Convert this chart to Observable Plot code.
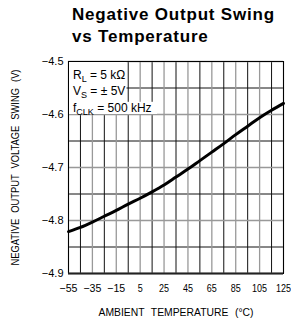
<!DOCTYPE html>
<html>
<head>
<meta charset="utf-8">
<script src="https://cdn.jsdelivr.net/npm/d3@7"></script>
<script src="https://cdn.jsdelivr.net/npm/@observablehq/plot@0.6"></script>
<style>
  html, body { margin: 0; padding: 0; background: #fff; }
  #wrap { position: relative; width: 291px; height: 326px; }
  #title { position: absolute; left: 72px; top: 4px; font-family: "Liberation Sans", Arial, sans-serif; font-weight: bold; font-size: 17px; letter-spacing: 0.8px; line-height: 22px; color: #000; }
  svg { display: block; }
</style>
</head>
<body>
<div id="wrap">
  <div id="title">Negative Output Swing<br>vs Temperature</div>
  <div id="chart"></div>
</div>
<script>
// Data
const temperature = [-55, -45, -35, -25, -15, -5, 5, 15, 25, 35, 45, 55, 65, 75, 85, 95, 105, 115, 125];
const swing = [-4.821, -4.813, -4.803, -4.792, -4.781, -4.769, -4.758, -4.746, -4.733, -4.718, -4.703, -4.687, -4.671, -4.655, -4.638, -4.622, -4.606, -4.592, -4.579];

const xTicks = [-55, -35, -15, 5, 25, 45, 65, 85, 105, 125];
const xMinor = [-45, -25, -5, 15, 35, 55, 75, 95, 115];
const yTicks = [-4.9, -4.8, -4.7, -4.6, -4.5];
const yMinor = [-4.85, -4.75, -4.65, -4.55];

const xLabel = "AMBIENT TEMPERATURE (°C)";
const yLabel = "NEGATIVE OUTPUT VOLTAGE SWING (V)";

// test conditions: [main, subscript, rest]
const conditions = [["R", "L", " = 5 kΩ"], ["V", "S", " = ± 5V"], ["f", "CLK", " = 500 kHz"]];
const condBaseline = [17, 33.5, 50];
const condBoxes = [
  {x1: -55, x2: -6, y1: -4.6, y2: -4.5},
  {x1: -55, x2: 19.5, y1: -4.6, y2: -4.577}
];

const data = temperature.map((t, i) => ({t, v: swing[i]}));
const condStrings = conditions.map(c => c.join(""));
const font = "'Liberation Sans', Arial, sans-serif";
const fmtX = d => d < 0 ? "\u2212" + Math.abs(d) : String(d);
const fmtY = d => "\u2212" + Math.abs(d).toFixed(1);

const chart = Plot.plot({
  width: 291,
  height: 326,
  marginLeft: 68,
  marginRight: 8,
  marginTop: 61,
  marginBottom: 53,
  style: {background: "white", color: "black", fontFamily: font, fontSize: "11px"},
  x: {domain: [-55, 125]},
  y: {domain: [-4.9, -4.5]},
  marks: [
    Plot.ruleX(xMinor, {stroke: "#111", strokeWidth: 1}),
    Plot.ruleY(yMinor, {stroke: "#111", strokeWidth: 1}),
    Plot.ruleX(xTicks, {stroke: "#999", strokeWidth: 1.3}),
    Plot.ruleY(yTicks, {stroke: "#999", strokeWidth: 1.3}),
    Plot.rect(condBoxes, {x1: "x1", x2: "x2", y1: "y1", y2: "y2", fill: "white", inset: 0}),
    Plot.frame({stroke: "black", strokeWidth: 1}),
    Plot.ruleY([-4.9], {stroke: "#222", strokeWidth: 2}),
    Plot.axisX(xTicks, {tickSize: 0, tickPadding: 11, label: null, fontSize: 11, tickFormat: fmtX}),
    Plot.axisY(yTicks, {tickSize: 0, tickPadding: 5, label: null, fontSize: 11, tickFormat: fmtY}),
    Plot.text([xLabel], {frameAnchor: "bottom", dy: 42, fontSize: 11}),
    Plot.text([yLabel], {frameAnchor: "left", rotate: -90, dx: -53, fontSize: 11}),
    ...condStrings.map((s, i) => Plot.text([s], {frameAnchor: "top-left", dx: 4.5, dy: condBaseline[i], fontSize: 12})),
    Plot.line(data, {x: "t", y: "v", stroke: "black", strokeWidth: 3, curve: "monotone-x"})
  ]
});
document.getElementById("chart").appendChild(chart);

const root = d3.select(chart);
const xTickSet = new Set(xTicks.map(fmtX));

root.selectAll("text").each(function() {
  const txt = this.textContent;
  const t = d3.select(this);
  const ci = condStrings.indexOf(txt);
  if (ci >= 0) {
    // baseline on the anchor point, subscript as tspan
    const c = conditions[ci];
    t.text(null).attr("y", null).attr("dy", null);
    t.append("tspan").text(c[0]);
    t.append("tspan").attr("dy", 3).attr("font-size", 9).text(c[1]);
    t.append("tspan").attr("dy", -3).text(c[2]);
  } else if (txt === xLabel) {
    t.attr("text-anchor", "middle").attr("textLength", 155).attr("lengthAdjust", "spacingAndGlyphs").style("word-spacing", "4px");
  } else if (txt === yLabel) {
    t.attr("text-anchor", "middle").attr("textLength", 196).attr("lengthAdjust", "spacingAndGlyphs").style("word-spacing", "4px");
  } else if (xTickSet.has(txt)) {
    const digits = txt.replace("\u2212", "").length;
    const len = digits * 5.0 + (txt.startsWith("\u2212") ? 8 : 0);
    t.attr("textLength", len).attr("lengthAdjust", "spacingAndGlyphs");
  }
});
// the y label group may carry text-anchor: start; set it on the group too
root.selectAll("text").filter(function() { return this.textContent === yLabel; })
  .each(function() { this.parentNode.setAttribute("text-anchor", "middle"); });
</script>
</body>
</html>
